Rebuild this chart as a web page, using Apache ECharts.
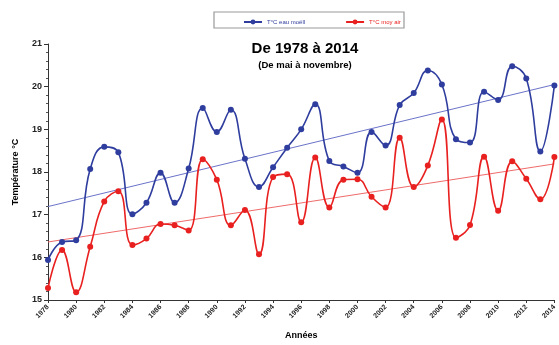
<!DOCTYPE html>
<html>
<head>
<meta charset="utf-8">
<script src="https://cdn.jsdelivr.net/npm/echarts@6/dist/echarts.min.js"></script>
<style>
html,body{margin:0;padding:0;background:#fff;}
#chart{width:559px;height:345px;}
</style>
</head>
<body>
<div id="chart"></div>
<script>
const years = [];
for (let y = 1978; y <= 2014; y++) years.push(String(y));

const eauValues = [15.94,16.36,16.40,18.07,18.59,18.46,17.01,17.28,17.98,17.28,18.08,19.50,
  18.94,19.46,18.31,17.65,18.11,18.57,19.00,19.59,18.26,18.13,17.98,18.94,
  18.62,19.57,19.85,20.38,20.05,18.77,18.69,19.88,19.69,20.48,20.19,18.48,20.03];
const airValues = [15.28,16.17,15.18,16.25,17.31,17.55,16.29,16.44,16.78,16.75,16.63,18.30,
  17.82,16.75,17.11,16.07,17.88,17.95,16.82,18.34,17.17,17.82,17.83,17.42,
  17.17,18.80,17.65,18.15,19.23,16.46,16.76,18.36,17.09,18.25,17.84,17.36,18.35];
const eauTrendYears = ['1978','2014'];
const eauTrend = [17.19, 20.05];
const airTrendYears = ['1978','2014'];
const airTrend = [16.36, 18.19];
const yTicks = {min: 15, max: 21, interval: 1};

const blue = '#2e3d9e';
const red = '#e8201f';
const font = 'Liberation Sans, Arial, sans-serif';

const chart = echarts.init(document.getElementById('chart'));
chart.setOption({
  animation: false,
  backgroundColor: '#fff',
  title: [
    {text: 'De 1978 à 2014', left: 300, top: 36, textAlign: 'center',
     textStyle: {fontFamily: font, fontSize: 15, fontWeight: 'bold', color: '#000'}},
    {text: '(De mai à novembre)', left: 300, top: 55, textAlign: 'center',
     textStyle: {fontFamily: font, fontSize: 9.5, fontWeight: 'bold', color: '#000'}}
  ],
  graphic: [{
    type: 'rect', shape: {x: 214, y: 12, width: 190, height: 16},
    style: {fill: '#fff', stroke: '#999', lineWidth: 1.2}, z: 0
  }],
  legend: {
    top: 14, left: 238, itemGap: 40, itemWidth: 18, itemHeight: 6,
    textStyle: {fontFamily: font, fontSize: 6},
    data: [
      {name: 'T°C eau moëll', textStyle: {color: blue}},
      {name: 'T°C moy air', textStyle: {color: red}}
    ]
  },
  grid: {left: 48, right: 1, top: 44, bottom: 41, containLabel: false},
  xAxis: {
    type: 'category', data: years, boundaryGap: false,
    name: 'Années', nameLocation: 'middle', nameGap: 31,
    nameTextStyle: {fontFamily: font, fontSize: 9, fontWeight: 'bold', color: '#000'},
    axisLine: {lineStyle: {color: '#333', width: 1}},
    axisTick: {interval: 1, length: 3, lineStyle: {color: '#333'}},
    axisLabel: {interval: 1, rotate: 45, fontFamily: font, fontSize: 7, fontWeight: 'bold', color: '#222', margin: 6},
    splitLine: {show: false}
  },
  yAxis: {
    type: 'value', min: yTicks.min, max: yTicks.max, interval: yTicks.interval,
    name: 'Température °C', nameLocation: 'middle', nameGap: 28,
    nameTextStyle: {fontFamily: font, fontSize: 9, fontWeight: 'bold', color: '#000'},
    axisLine: {show: true, lineStyle: {color: '#333', width: 1}},
    axisTick: {show: true, length: 4, lineStyle: {color: '#333'}},
    minorTick: {show: true, splitNumber: 5, length: 2, lineStyle: {color: '#555'}},
    axisLabel: {fontFamily: font, fontSize: 9, fontWeight: 'bold', color: '#222', margin: 6},
    splitLine: {show: false}
  },
  series: [
    {name: 'T°C eau moëll', type: 'line', data: eauValues, smooth: 0.45,
     symbol: 'circle', symbolSize: 6, itemStyle: {color: blue}, lineStyle: {color: blue, width: 1.6}, z: 3},
    {name: 'T°C moy air', type: 'line', data: airValues, smooth: 0.45,
     symbol: 'circle', symbolSize: 6, itemStyle: {color: red}, lineStyle: {color: red, width: 1.6}, z: 3},
    {name: 'trend eau', type: 'line', data: eauTrendYears.map((y, i) => [y, eauTrend[i]]),
     symbol: 'none', lineStyle: {color: '#6b73c9', width: 1}, z: 2},
    {name: 'trend air', type: 'line', data: airTrendYears.map((y, i) => [y, airTrend[i]]),
     symbol: 'none', lineStyle: {color: '#f06a6a', width: 1}, z: 2}
  ]
});
</script>
</body>
</html>
